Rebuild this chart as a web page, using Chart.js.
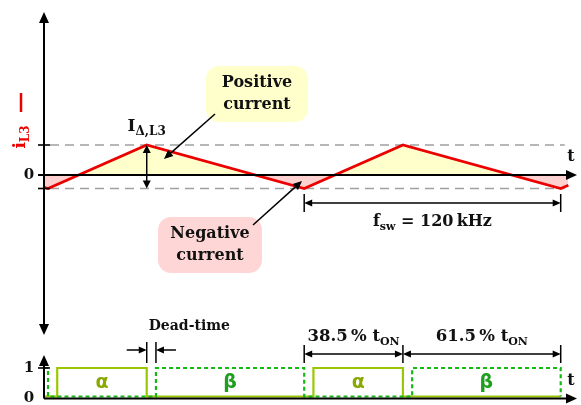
<!DOCTYPE html>
<html>
<head>
<meta charset="utf-8">
<script src="https://cdn.jsdelivr.net/npm/chart.js@4/dist/chart.umd.min.js"></script>
<style>
  html, body { margin: 0; padding: 0; background: #fff; }
  #wrap { position: relative; width: 581px; height: 405px; }
  canvas { position: absolute; left: 0; top: 0; }
</style>
</head>
<body>
<div id="wrap">
  <canvas id="gate" width="581" height="405"></canvas>
  <canvas id="cur" width="581" height="405"></canvas>
</div>
<script>
// Inductor current i_L3 (time in µs, current normalised to the ripple peak)
const currentTimes  = [-0.13, 0, 3.21, 8.33, 11.54, 16.67, 16.92];
const currentValues = [-0.41, -0.45, 1, -0.45, 1, -0.45, -0.34];
const rippleLevels  = [1, -0.45];          // upper / lower ripple bound

// Gate signals α (solid) and β (dashed)
const alphaTimes  = [-0.13, 0.30, 0.30, 3.21, 3.21, 8.63, 8.63, 11.54, 11.54, 16.67];
const alphaLevels = [0, 0, 1, 1, 0, 0, 1, 1, 0, 0];
const betaTimes   = [-0.13, 0, 0, 3.51, 3.51, 8.33, 8.33, 11.84, 11.84, 16.67, 16.67];
const betaLevels  = [1, 1, 0, 0, 1, 1, 0, 0, 1, 1, 0];

// Marks used by the dimension arrows
const periodMarks   = [8.33, 11.54, 16.67];   // valley, peak, valley
const deadTimeMarks = [3.21, 3.51];
const dutyLabels    = ['38.5', '61.5'];
const freqLabel     = '120';
const tickLabelsTop = ['0'];
const tickLabelsGate = ['0', '1'];

const T_MIN = -0.13, T_MAX = 17.2;
const SERIF = '"DejaVu Serif", serif';

function pts(xs, ys) { return xs.map((x, i) => ({ x: x, y: ys[i] })); }

function richText(ctx, parts, x, y, size, color, align) {
  const mainFont = 'bold ' + size + 'px ' + SERIF;
  const subFont = 'bold ' + Math.round(size * 0.68) + 'px ' + SERIF;
  let w = 0;
  parts.forEach(p => { ctx.font = p[1] ? subFont : mainFont; w += ctx.measureText(p[0]).width; });
  let cx = align === 'center' ? x - w / 2 : (align === 'right' ? x - w : x);
  ctx.fillStyle = color;
  ctx.textAlign = 'left';
  ctx.textBaseline = 'alphabetic';
  parts.forEach(p => {
    ctx.font = p[1] ? subFont : mainFont;
    ctx.fillText(p[0], cx, y + (p[1] ? size * 0.25 : 0));
    cx += ctx.measureText(p[0]).width;
  });
}

function head(ctx, x1, y1, x2, y2, len, half) {
  const a = Math.atan2(y2 - y1, x2 - x1);
  ctx.beginPath();
  ctx.moveTo(x2, y2);
  ctx.lineTo(x2 - len * Math.cos(a) + half * Math.sin(a), y2 - len * Math.sin(a) - half * Math.cos(a));
  ctx.lineTo(x2 - len * Math.cos(a) - half * Math.sin(a), y2 - len * Math.sin(a) + half * Math.cos(a));
  ctx.closePath();
  ctx.fill();
}

function arrow(ctx, x1, y1, x2, y2, o) {
  o = o || {};
  const len = o.len || 8, half = o.half || 3.5;
  ctx.save();
  ctx.strokeStyle = '#000';
  ctx.fillStyle = '#000';
  ctx.lineWidth = o.width || 1.5;
  const a = Math.atan2(y2 - y1, x2 - x1);
  const sx = o.both ? x1 + (len - 2) * Math.cos(a) : x1;
  const sy = o.both ? y1 + (len - 2) * Math.sin(a) : y1;
  ctx.beginPath();
  ctx.moveTo(sx, sy);
  ctx.lineTo(x2 - (len - 2) * Math.cos(a), y2 - (len - 2) * Math.sin(a));
  ctx.stroke();
  head(ctx, x1, y1, x2, y2, len, half);
  if (o.both) head(ctx, x2, y2, x1, y1, len, half);
  ctx.restore();
}

function line(ctx, x1, y1, x2, y2, w, color, dash) {
  ctx.save();
  ctx.strokeStyle = color || '#000';
  ctx.lineWidth = w || 1.5;
  if (dash) ctx.setLineDash(dash);
  ctx.beginPath();
  ctx.moveTo(x1, y1);
  ctx.lineTo(x2, y2);
  ctx.stroke();
  ctx.restore();
}

function box(ctx, x, y, w, h, fill, lines, size) {
  ctx.save();
  ctx.fillStyle = fill;
  ctx.beginPath();
  ctx.roundRect(x, y, w, h, 13);
  ctx.fill();
  ctx.fillStyle = '#111';
  ctx.font = 'bold ' + size + 'px ' + SERIF;
  ctx.textAlign = 'center';
  ctx.textBaseline = 'middle';
  ctx.fillText(lines[0], x + w / 2, y + h * 0.3);
  ctx.fillText(lines[1], x + w / 2, y + h * 0.7);
  ctx.restore();
}

// ---------- current waveform ----------
const currentDecor = {
  id: 'currentDecor',
  beforeDatasetsDraw(chart) {
    const ctx = chart.ctx, X = v => chart.scales.x.getPixelForValue(v), Y = v => chart.scales.y.getPixelForValue(v);
    rippleLevels.forEach(v => {
      line(ctx, X(T_MIN) + 6, Y(v), X(16.8), Y(v), 1.6, '#a0a0a0', [9, 6]);
    });
  },
  afterDatasetsDraw(chart) {
    const ctx = chart.ctx, xs = chart.scales.x, ys = chart.scales.y;
    const X = v => xs.getPixelForValue(v), Y = v => ys.getPixelForValue(v);
    const x0 = X(T_MIN), y0 = Y(0);

    // axes
    arrow(ctx, x0 - 6, y0, xs.right, y0, { width: 2, len: 11, half: 5 });
    arrow(ctx, x0, ys.bottom, x0, ys.top, { width: 2, len: 11, half: 5, both: true });
    rippleLevels.forEach(v => line(ctx, x0 - 6, Y(v), x0 + 6, Y(v), 1.6));

    ctx.font = 'bold 15px ' + SERIF;
    ctx.fillStyle = '#111';
    ctx.textAlign = 'center';
    ctx.textBaseline = 'middle';
    ctx.fillText(tickLabelsTop[0], x0 - 15, y0);
    ctx.font = 'bold 16px ' + SERIF;
    ctx.fillText('t', xs.right - 6, y0 - 18);

    // axis title i_L3 with its legend stroke
    line(ctx, 21, 93, 21, 112, 2.5, 'rgb(235,0,0)');
    ctx.save();
    ctx.translate(25, 137);
    ctx.rotate(-Math.PI / 2);
    richText(ctx, [['i', false], ['L3', true]], 0, 0, 17, 'rgb(235,0,0)', 'center');
    ctx.restore();

    // ripple amplitude
    const xp = X(currentTimes[2]);
    arrow(ctx, xp, Y(rippleLevels[0]), xp, Y(rippleLevels[1]), { both: true, len: 8, half: 4 });
    richText(ctx, [['I', false], ['\u0394,L3', true]], xp, 131, 17, '#111', 'center');

    // callouts
    box(ctx, 206, 66, 102, 56, 'rgb(255,255,204)', ['Positive', 'current'], 16);
    arrow(ctx, 215, 114, 164, 159, { len: 9, half: 4 });
    box(ctx, 158, 217, 104, 56, 'rgb(255,214,214)', ['Negative', 'current'], 16);
    arrow(ctx, 253, 225, 302, 181, { len: 9, half: 4 });

    // switching period
    const xa = X(periodMarks[0]), xb = X(periodMarks[2]);
    line(ctx, xa, 194, xa, 212, 1.5);
    line(ctx, xb, 194, xb, 212, 1.5);
    arrow(ctx, xa, 203, xb, 203, { both: true, len: 8, half: 3.5 });
    richText(ctx, [['f', false], ['sw', true], [' = ' + freqLabel + '\u2009kHz', false]], (xa + xb) / 2, 226, 16, '#111', 'center');
  }
};

new Chart(document.getElementById('cur'), {
  type: 'line',
  data: {
    datasets: [{
      data: pts(currentTimes, currentValues),
      borderColor: 'rgb(235,0,0)',
      borderWidth: 2.6,
      pointRadius: 0,
      tension: 0,
      fill: { target: 'origin', above: 'rgb(255,255,204)', below: 'rgb(255,208,208)' }
    }]
  },
  options: {
    responsive: false,
    animation: false,
    events: [],
    layout: { padding: { left: 44, right: 4, top: 12, bottom: 70 } },
    plugins: { legend: { display: false }, tooltip: { enabled: false } },
    scales: {
      x: { type: 'linear', display: false, min: T_MIN, max: T_MAX },
      y: { display: false, min: -5.333, max: 5.433 }
    }
  },
  plugins: [currentDecor]
});

// ---------- gate signals ----------
const gateDecor = {
  id: 'gateDecor',
  afterDatasetsDraw(chart) {
    const ctx = chart.ctx, xs = chart.scales.x, ys = chart.scales.y;
    const X = v => xs.getPixelForValue(v), Y = v => ys.getPixelForValue(v);
    const x0 = X(T_MIN), yAxis = Y(0) + 2;

    arrow(ctx, x0, yAxis, xs.right, yAxis, { width: 2, len: 11, half: 5 });
    arrow(ctx, x0, yAxis, x0, ys.top, { width: 2, len: 11, half: 5 });
    line(ctx, x0 - 6, Y(1), x0 + 6, Y(1), 1.6);

    ctx.font = 'bold 15px ' + SERIF;
    ctx.fillStyle = '#111';
    ctx.textAlign = 'center';
    ctx.textBaseline = 'middle';
    ctx.fillText(tickLabelsGate[0], x0 - 15, yAxis);
    ctx.fillText(tickLabelsGate[1], x0 - 15, Y(1));
    ctx.font = 'bold 16px ' + SERIF;
    ctx.fillText('t', xs.right - 6, yAxis - 18);

    // pulse names
    ctx.font = 'bold 19px "DejaVu Sans", sans-serif';
    const yl = (Y(0) + Y(1)) / 2 + 1;
    ctx.fillStyle = 'rgb(136,170,0)';
    ctx.fillText('\u03b1', X((alphaTimes[1] + alphaTimes[3]) / 2), yl);
    ctx.fillText('\u03b1', X((alphaTimes[5] + alphaTimes[7]) / 2), yl);
    ctx.fillStyle = 'rgb(30,160,30)';
    ctx.fillText('\u03b2', X((betaTimes[3] + betaTimes[5]) / 2), yl);
    ctx.fillText('\u03b2', X((betaTimes[7] + betaTimes[9]) / 2), yl);

    // dead time
    const d1 = X(deadTimeMarks[0]), d2 = X(deadTimeMarks[1]);
    line(ctx, d1, 342, d1, 363, 1.5);
    line(ctx, d2, 342, d2, 363, 1.5);
    arrow(ctx, d1 - 20, 350, d1, 350, { len: 8, half: 3.5 });
    arrow(ctx, d2 + 20, 350, d2, 350, { len: 8, half: 3.5 });
    ctx.font = 'bold 14px ' + SERIF;
    ctx.fillStyle = '#111';
    ctx.fillText('Dead-time', (d1 + d2) / 2 + 38, 326);

    // duty shares of one period
    const p = periodMarks.map(X);
    p.forEach(px => line(ctx, px, 345, px, 363, 1.5));
    arrow(ctx, p[0], 354, p[1], 354, { both: true, len: 8, half: 3.5 });
    arrow(ctx, p[1], 354, p[2], 354, { both: true, len: 8, half: 3.5 });
    richText(ctx, [[dutyLabels[0] + '\u2009% t', false], ['ON', true]], (p[0] + p[1]) / 2, 341, 16.5, '#111', 'center');
    richText(ctx, [[dutyLabels[1] + '\u2009% t', false], ['ON', true]], (p[1] + p[2]) / 2, 341, 16.5, '#111', 'center');
  }
};

new Chart(document.getElementById('gate'), {
  type: 'line',
  data: {
    datasets: [
      {
        data: pts(alphaTimes, alphaLevels),
        borderColor: 'rgb(153,200,0)',
        borderWidth: 2.2,
        pointRadius: 0,
        tension: 0,
        order: 2
      },
      {
        data: pts(betaTimes, betaLevels),
        borderColor: 'rgb(20,185,20)',
        borderWidth: 2.2,
        borderDash: [4, 3],
        pointRadius: 0,
        tension: 0,
        order: 1
      }
    ]
  },
  options: {
    responsive: false,
    animation: false,
    events: [],
    layout: { padding: { left: 44, right: 4, top: 355, bottom: 6 } },
    plugins: { legend: { display: false }, tooltip: { enabled: false } },
    scales: {
      x: { type: 'linear', display: false, min: T_MIN, max: T_MAX },
      y: { display: false, min: -0.088, max: 1.456 }
    }
  },
  plugins: [gateDecor]
});
</script>
</body>
</html>
